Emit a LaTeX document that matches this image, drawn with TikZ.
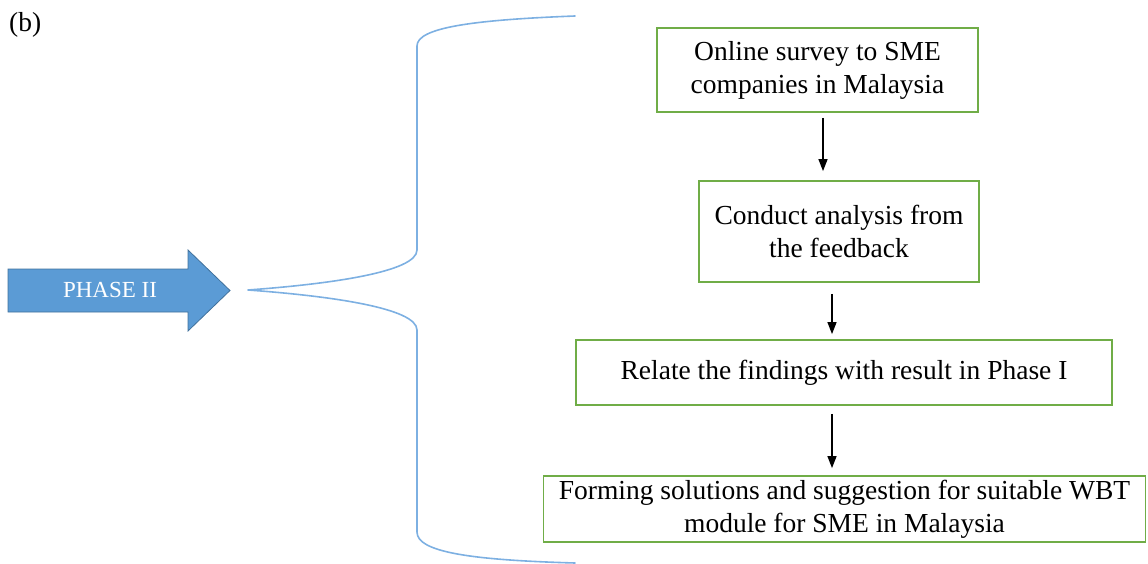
\documentclass[tikz,border=0pt]{standalone}
\usepackage{fontspec}
\setmainfont{Liberation Serif}
\usetikzlibrary{arrows.meta,calc}

\definecolor{boxgreen}{HTML}{70AD47}
\definecolor{arrowblue}{HTML}{5B9BD5}
\definecolor{arrowedge}{HTML}{41719C}
\definecolor{bracecol}{HTML}{7DB0E2}

\tikzset{
  stepbox/.style={draw=boxgreen, line width=1.8pt, align=center, inner sep=0pt,
    font=\fontsize{27.5}{33}\selectfont},
  flow/.style={draw=black, line width=1.3pt, -{Triangle[length=12pt,width=9pt]}},
  bracket/.style={draw=bracecol, line width=1.6pt, line cap=round, line join=round},
}

\begin{document}
\begin{tikzpicture}[x=1pt, y=-1pt]
\useasboundingbox (0,0) rectangle (1148,564);

% sub-figure label
\node[anchor=base west, inner sep=0pt, font=\fontsize{27.5}{33}\selectfont] (label) at (9,32) {(b)};

% block arrow with the phase name
\fill[arrowblue, draw=arrowedge, line width=0.8pt]
  (8,269) -- (188,269) -- (188,250) -- (230,290.5) -- (188,331) -- (188,312) -- (8,312) -- cycle;
\node[text=white, inner sep=0pt, font=\fontsize{23}{28}\selectfont] (phase) at (110,290) {PHASE II};

% curly brace gathering the steps
\coordinate (tip) at (248,290);
\draw[bracket]
  (575,16) .. controls (470,20) and (417,28) .. (417,46)
  -- (417,250) .. controls (417,272) and (330,284) .. (tip)
  (tip) .. controls (330,296) and (417,308) .. (417,330)
  -- (417,532) .. controls (417,552) and (470,560) .. (575,563);

% process steps
\node[stepbox, minimum width=321pt, minimum height=84pt] (s1) at (817.5,70)
  {Online survey to SME\\companies in Malaysia};
\node[stepbox, minimum width=280pt, minimum height=101pt] (s2) at (839,231.5)
  {Conduct analysis from\\the feedback};
\node[stepbox, minimum width=536pt, minimum height=65pt] (s3) at (844,372.5)
  {Relate the findings with result in Phase I};
\node[stepbox, minimum width=602pt, minimum height=66pt] (s4) at (844.5,509)
  {Forming solutions and suggestion for suitable WBT\\module for SME in Malaysia};

% connectors between the steps (y grows downwards here)
\draw[flow] ([shift={(5.5,5)}]s1.south) coordinate (f1) -- ([yshift=9pt]f1 |- s2.north);
\draw[flow] ([shift={(-7,11)}]s2.south) coordinate (f2) -- ([yshift=5pt]f2 |- s3.north);
\draw[flow] ([shift={(-12,8)}]s3.south) coordinate (f3) -- ([yshift=7pt]f3 |- s4.north);
\end{tikzpicture}
\end{document}
